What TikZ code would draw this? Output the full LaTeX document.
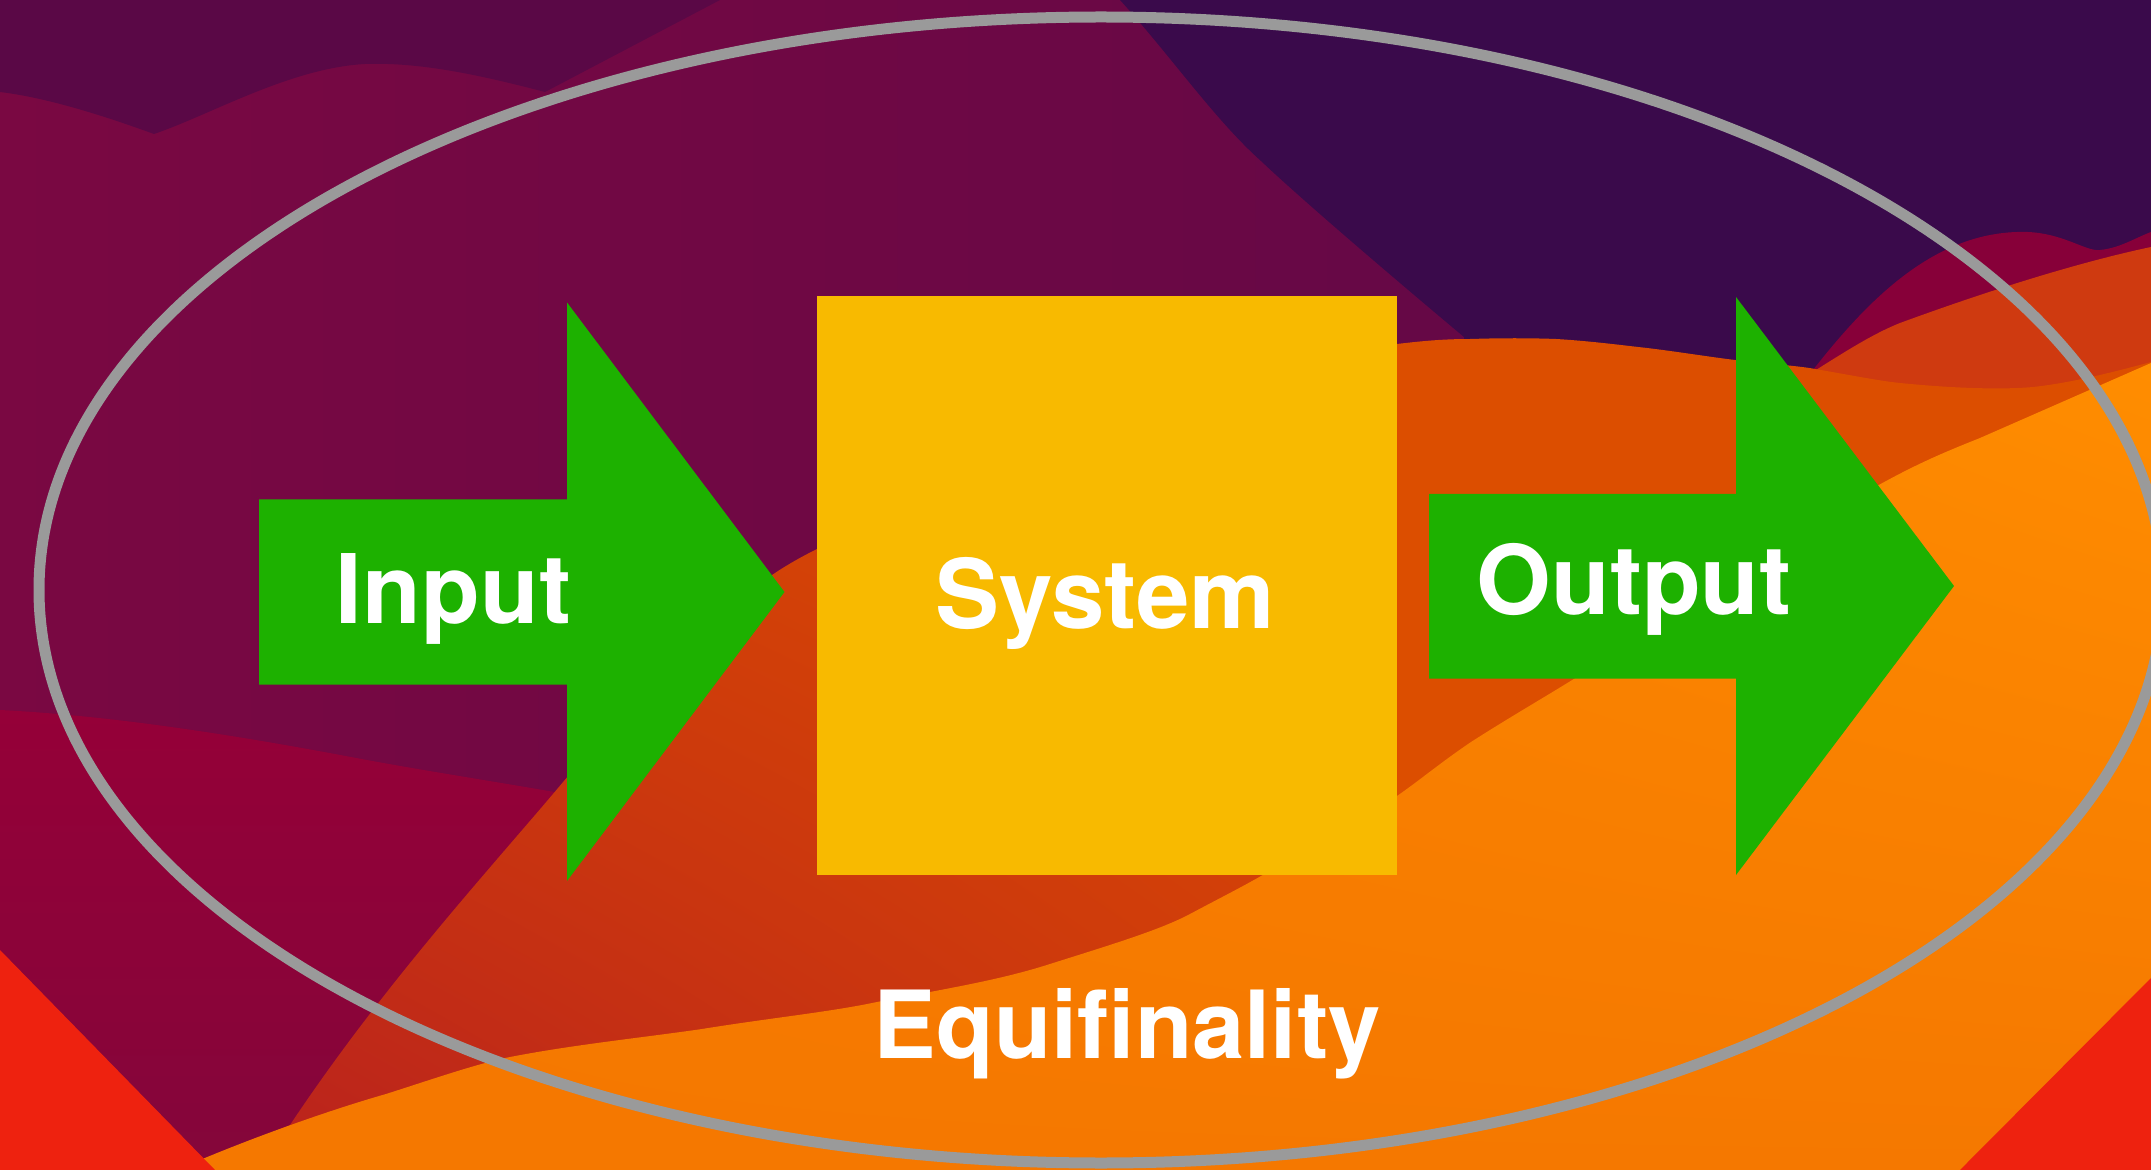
\documentclass[tikz,border=0pt]{standalone}
\usepackage{fontspec}
\setmainfont{TeX Gyre Heros}
\usetikzlibrary{shadings}
\definecolor{bgmagL}{HTML}{7A0842}
\definecolor{bgmagR}{HTML}{5C0848}
\definecolor{bgdarkTL}{HTML}{5A0846}
\definecolor{bgnavy}{HTML}{3A0A4B}
\definecolor{crimsonT}{HTML}{950038}
\definecolor{crimsonD}{HTML}{84063A}
\definecolor{hump}{HTML}{870039}
\definecolor{redband}{HTML}{CF3A10}
\definecolor{darkorange}{HTML}{DC4E00}
\definecolor{bandUL}{HTML}{D24006}
\definecolor{bandUR}{HTML}{DC4E00}
\definecolor{bandLL}{HTML}{B8201F}
\definecolor{bandLR}{HTML}{D03C0A}
\definecolor{orangeA}{HTML}{F57800}
\definecolor{orangeB}{HTML}{FF8D00}
\definecolor{cornerred}{HTML}{EE220F}
\definecolor{ringgray}{HTML}{9A9A9A}
\definecolor{arrowgreen}{HTML}{1DB100}
\definecolor{boxyellow}{HTML}{F8BA00}
\begin{document}
\begin{tikzpicture}[x=0.5pt,y=-0.5pt,
  txt/.style={text=white, font=\fontsize{48}{58}\selectfont\bfseries, inner sep=0pt, anchor=base},
  flow/.style={fill=arrowgreen, draw=none},
  sysbox/.style={fill=boxyellow, draw=none, minimum width=290pt, minimum height=289.5pt, inner sep=0pt},
  ring/.style={draw=ringgray, line width=5.5pt}]
\useasboundingbox (0,0) rectangle (2151,1170);
\begin{scope}
\clip (0,0) rectangle (2151,1170);
% background wallpaper
\shade[left color=bgmagL, right color=bgmagR] (0,0) rectangle (2151,1170);
\fill[bgdarkTL] (0,0) -- (720,0) -- (545,92) .. controls (480,75) and (420,62) .. (365,64)
  .. controls (290,68) and (210,115) .. (154,134) .. controls (110,118) and (50,98) .. (0,92) -- cycle;
\fill[bgnavy] (1120,0) .. controls (1170,55) and (1215,120) .. (1261,161)
  .. controls (1300,198) and (1390,275) .. (1464,337) -- (1464,450) -- (2151,450) -- (2151,0) -- cycle;
\fill[hump] (1790,400) .. controls (1850,320) and (1920,235) .. (2017,232)
  .. controls (2060,230) and (2085,252) .. (2100,250) .. controls (2120,248) and (2135,238) .. (2151,232)
  -- (2151,420) -- (1790,420) -- cycle;
\fill[redband] (1800,380) .. controls (1840,355) and (1870,335) .. (1900,323)
  .. controls (1990,290) and (2080,262) .. (2151,247) -- (2151,420) -- (1800,420) -- cycle;
\fill[darkorange] (1397,344) .. controls (1430,340) and (1450,339) .. (1471,339)
  .. controls (1500,338) and (1530,338) .. (1556,339) .. controls (1590,341) and (1620,345) .. (1647,348)
  .. controls (1680,352) and (1710,357) .. (1735,360) .. controls (1770,364) and (1800,366) .. (1815,369)
  .. controls (1850,375) and (1880,381) .. (1900,383) .. controls (1950,388) and (2000,390) .. (2033,387)
  .. controls (2070,383) and (2110,373) .. (2151,362) -- (2151,900) -- (1397,900) -- cycle;
\shade[top color=crimsonT, bottom color=crimsonD] (0,710) .. controls (120,716) and (250,738) .. (351,757)
  .. controls (430,772) and (500,782) .. (600,800) -- (600,1170) -- (0,1170) -- cycle;
\shade[upper left=bandUL, upper right=bandUR, lower left=bandLL, lower right=bandLR]
  (290,1125) .. controls (380,990) and (480,880) .. (553,794)
  .. controls (640,690) and (720,610) .. (775,573) .. controls (790,563) and (805,555) .. (817,549)
  -- (1000,400) -- (1397,400) -- (1397,1170) -- (200,1170) -- cycle;
\shade[upper left=orangeA, upper right=orangeB, lower left=orangeA, lower right=orangeA]
  (200,1160) .. controls (260,1135) and (330,1110) .. (386,1094)
  .. controls (430,1080) and (470,1066) .. (505,1058)
  .. controls (570,1045) and (640,1038) .. (702,1029)
  .. controls (770,1018) and (830,1012) .. (877,1002)
  .. controls (950,988) and (1000,980) .. (1050,964)
  .. controls (1110,945) and (1160,930) .. (1190,914)
  .. controls (1220,898) and (1240,888) .. (1261,876)
  -- (1397,796)
  .. controls (1420,780) and (1440,763) .. (1471,742)
  .. controls (1510,717) and (1545,697) .. (1577,677)
  -- (1736,590) -- (1877,486)
  .. controls (1920,462) and (1950,450) .. (1980,438)
  -- (2151,363) -- (2151,1170) -- (200,1170) -- cycle;
\fill[cornerred] (0,950) -- (215,1170) -- (0,1170) -- cycle;
\fill[cornerred] (2151,978) -- (1960,1170) -- (2151,1170) -- cycle;
% ring
\draw[ring] (1101,590) ellipse [x radius=1062, y radius=573];
\end{scope}
% arrows and box
\fill[flow] (259,499.5) -- (567,499.5) -- (567,302.5) -- (784.5,592) -- (567,881) -- (567,684.5) -- (259,684.5) -- cycle;
\fill[flow] (1429,494) -- (1736,494) -- (1736,297) -- (1954,586) -- (1736,875) -- (1736,678.5) -- (1429,678.5) -- cycle;
\node[sysbox] (box) at (1107,585.5) {};
% texts
\node[txt] (input) at (453.5,623) {Input};
\node[txt] (system) at (1105,628.5) {System};
\node[txt] (output) at (1634,614) {Output};
\node[txt, font=\fontsize{47}{56}\selectfont\bfseries] (equi) at (1127,1058) {Equifinality};
\end{tikzpicture}
\end{document}
